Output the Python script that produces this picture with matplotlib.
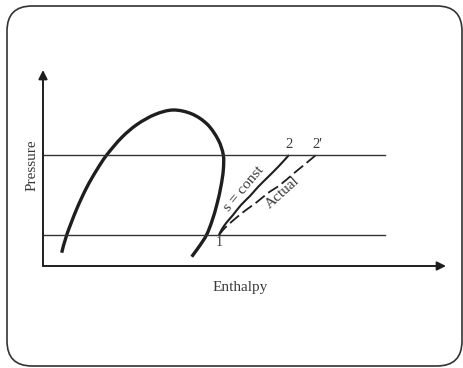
import matplotlib
matplotlib.use("Agg")
import matplotlib.pyplot as plt
from matplotlib.patches import FancyBboxPatch, PathPatch
from matplotlib.path import Path

# Saturation dome (enthalpy, pressure) in arbitrary units
dome_h = [18.7, 23.7, 33.7, 43.7, 53.7, 63.7, 78.7, 94, 112, 130.3, 149, 164.5,
          175.3, 180.3, 180.3, 178, 174, 169, 163.5, 156.5, 148.7]
dome_p = [13.3, 31, 57, 78.5, 96, 111, 128.5, 141.5, 151.5, 156, 152, 141.5,
          126, 111, 96, 80, 62, 45, 31, 20, 9.3]

# Isentropic compression 1 -> 2
isen_h = [176, 179, 184, 190, 198, 207, 215, 224, 235, 246]
isen_p = [31, 37, 44, 51, 61, 70, 79, 88, 99, 111]

# Actual compression 1 -> 2'
act_h = [176, 180, 185, 193, 203, 214, 225, 237, 250, 261, 273]
act_p = [31, 36, 41, 48, 56, 64, 73, 81, 92, 101, 111]

# Condenser and evaporator pressure levels
p_high = 111
p_low = 31
line_h_end = 342

ink = "#1e1e1e"
txt = "#3a3a3a"
serif = ["Liberation Serif", "DejaVu Serif"]


def smooth_path(xs, ys):
    """Cubic Bezier path through the given points (Catmull-Rom tangents)."""
    pts = list(zip(xs, ys))
    verts = [pts[0]]
    codes = [Path.MOVETO]
    n = len(pts)
    for i in range(n - 1):
        p0 = pts[i - 1] if i > 0 else pts[i]
        p1 = pts[i]
        p2 = pts[i + 1]
        p3 = pts[i + 2] if i + 2 < n else pts[i + 1]
        c1 = (p1[0] + (p2[0] - p0[0]) / 6, p1[1] + (p2[1] - p0[1]) / 6)
        c2 = (p2[0] - (p3[0] - p1[0]) / 6, p2[1] - (p3[1] - p1[1]) / 6)
        verts += [c1, c2, p2]
        codes += [Path.CURVE4] * 3
    return Path(verts, codes)


fig = plt.figure(figsize=(4.63, 3.68), dpi=100)
ax = fig.add_axes([0, 0, 1, 1])
ax.set_xlim(-43, 420)
ax.set_ylim(-102, 266)
ax.axis("off")

# Rounded frame
frame = FancyBboxPatch((-36, -100), 455, 360,
                       boxstyle="round,pad=0,rounding_size=25",
                       fill=False, edgecolor="#333333", linewidth=1.2)
ax.add_patch(frame)

# Axes with arrows
ax.annotate("", xy=(0, 196), xytext=(0, 0),
            arrowprops=dict(arrowstyle="-|>", color=ink, lw=1.4,
                            mutation_scale=13, shrinkA=0, shrinkB=0))
ax.annotate("", xy=(403, 0), xytext=(0, 0),
            arrowprops=dict(arrowstyle="-|>", color=ink, lw=1.4,
                            mutation_scale=13, shrinkA=0, shrinkB=0))

# Pressure levels
ax.plot([0, line_h_end], [p_high, p_high], color="#333333", lw=1.0)
ax.plot([0, line_h_end], [p_low, p_low], color="#333333", lw=1.0)

# Dome
ax.add_patch(PathPatch(smooth_path(dome_h, dome_p), fill=False,
                       edgecolor=ink, lw=2.4, capstyle="butt"))

# Compression paths
ax.add_patch(PathPatch(smooth_path(isen_h, isen_p), fill=False,
                       edgecolor=ink, lw=1.5))
ax.add_patch(PathPatch(smooth_path(act_h, act_p), fill=False,
                       edgecolor=ink, lw=1.3, linestyle=(0, (6.5, 2.5))))

# Labels
ax.text(176, 24, "1", fontsize=10, family=serif, color=txt, ha="center", va="center")
ax.text(246, 122, "2", fontsize=10.5, family=serif, color=txt, ha="center", va="center")
ax.text(274, 122, "2'", fontsize=10.5, family=serif, color=txt, ha="center", va="center")
ax.text(201, 77, "s = const", fontsize=11, family=serif, color=txt,
        ha="center", va="center", rotation=50)
ax.text(240, 73, "Actual", fontsize=11, family=serif, color=txt,
        ha="center", va="center", rotation=42)
ax.text(-11, 100.5, "Pressure", fontsize=11, family=serif, color=txt,
        ha="center", va="center", rotation=90)
ax.text(197, -21, "Enthalpy", fontsize=11, family=serif, color=txt,
        ha="center", va="center")

fig.savefig("out.png", dpi=100, facecolor="white")
